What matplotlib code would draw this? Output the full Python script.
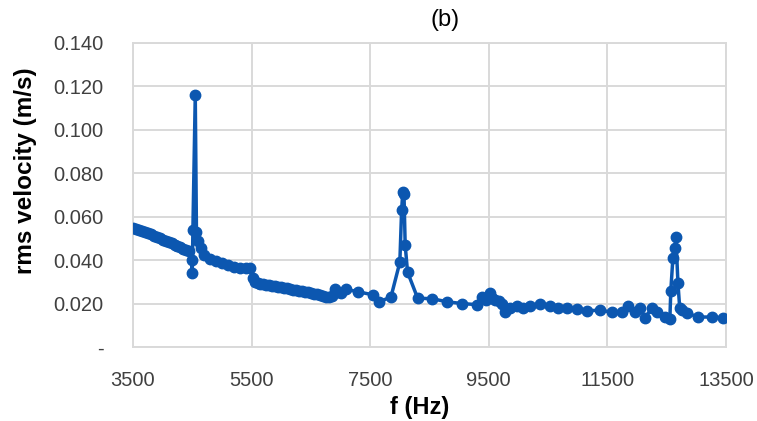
import matplotlib.pyplot as plt
import numpy as np

# frequency sweep (Hz) and rms velocity (m/s)
freq = [3500, 3550, 3600, 3650, 3700, 3750, 3800, 3850, 3900, 3950,
        4000, 4050, 4100, 4150, 4200, 4250, 4300, 4350, 4400, 4450,
        4490, 4500, 4510, 4550, 4570, 4600, 4640, 4700, 4800, 4900,
        5000, 5100, 5200, 5300, 5400, 5470, 5520, 5550, 5600, 5650,
        5700, 5750, 5800, 5850, 5900, 5950, 6000, 6050, 6100, 6150,
        6200, 6250, 6300, 6350, 6400, 6450, 6500, 6550, 6600, 6650,
        6700, 6750, 6800, 6850, 6900, 6950, 7000, 7100, 7300, 7550,
        7650, 7850, 8000, 8030, 8050, 8070, 8090, 8130, 8300, 8550,
        8800, 9050, 9300, 9384, 9450, 9519, 9560, 9603, 9680, 9721,
        9772, 9856, 9974, 10075, 10193, 10362, 10530, 10665, 10817, 10986,
        11155, 11374, 11577, 11746, 11847, 11965, 12050, 12134, 12252, 12336,
        12470, 12554, 12570, 12605, 12639, 12656, 12690, 12720, 12757, 12841,
        13027, 13263, 13449]
vel = [0.0550, 0.0545, 0.0540, 0.0535, 0.0530, 0.0525, 0.0519, 0.0513, 0.0507, 0.0501,
       0.0495, 0.0489, 0.0483, 0.0477, 0.0471, 0.0465, 0.0459, 0.0453, 0.0447, 0.0440,
       0.0400, 0.0340, 0.0540, 0.1160, 0.0530, 0.0490, 0.0455, 0.0425, 0.0405, 0.0395,
       0.0385, 0.0378, 0.0370, 0.0362, 0.0365, 0.0362, 0.0320, 0.0300, 0.0295, 0.0292,
       0.0290, 0.0287, 0.0284, 0.0282, 0.0280, 0.0277, 0.0275, 0.0272, 0.0270, 0.0267,
       0.0264, 0.0262, 0.0259, 0.0256, 0.0254, 0.0251, 0.0249, 0.0246, 0.0243, 0.0240,
       0.0236, 0.0232, 0.0228, 0.0235, 0.0265, 0.0255, 0.0250, 0.0265, 0.0254, 0.0240,
       0.0208, 0.0230, 0.0390, 0.0630, 0.0715, 0.0705, 0.0470, 0.0345, 0.0225, 0.0222,
       0.0208, 0.0200, 0.0195, 0.0230, 0.0215, 0.0249, 0.0225, 0.0217, 0.0210, 0.0200,
       0.0160, 0.0180, 0.0190, 0.0180, 0.0190, 0.0198, 0.0190, 0.0180, 0.0180, 0.0175,
       0.0166, 0.0170, 0.0160, 0.0160, 0.0190, 0.0160, 0.0180, 0.0134, 0.0180, 0.0160,
       0.0140, 0.0130, 0.0260, 0.0410, 0.0456, 0.0507, 0.0295, 0.0180, 0.0170, 0.0157,
       0.0138, 0.0138, 0.0135]

xticks = [3500, 5500, 7500, 9500, 11500, 13500]
yticks = [0.0, 0.02, 0.04, 0.06, 0.08, 0.10, 0.12, 0.14]
ytick_labels = ['-', '0.020', '0.040', '0.060', '0.080', '0.100', '0.120', '0.140']

plt.rcParams['font.family'] = ['Liberation Sans', 'DejaVu Sans']

fig = plt.figure(figsize=(7.57, 4.21), dpi=100)
ax = fig.add_axes([0.1757, 0.1758, 0.7833, 0.7221])

ax.plot(freq, vel, 'o-', color='#0c57b0', linewidth=2.5, markersize=7.5, zorder=3)

ax.set_xlim(3500, 13500)
ax.set_ylim(0, 0.14)
ax.set_xticks(xticks)
ax.set_xticklabels([str(t) for t in xticks])
ax.set_yticks(yticks)
ax.set_yticklabels(ytick_labels)

grid_c = '#d9d9d9'
ax.grid(True, color=grid_c, linewidth=1.4, zorder=0)
for s in ax.spines.values():
    s.set_color(grid_c)
    s.set_linewidth(1.4)
ax.tick_params(axis='both', length=0, labelsize=14.5, labelcolor='#404040')
ax.tick_params(axis='x', pad=17)
ax.tick_params(axis='y', pad=21)

ax.set_xlabel('f (Hz)', fontsize=17, fontweight='bold', va='center')
ax.xaxis.set_label_coords(0.483, -0.20)
ax.set_ylabel('rms velocity (m/s)', fontsize=17.5, fontweight='bold', va='center')
ax.yaxis.set_label_coords(-0.182, 0.58)
fig.text(0.588, 0.952, '(b)', fontsize=17, ha='center', va='center')

fig.savefig('out.png', dpi=100)
